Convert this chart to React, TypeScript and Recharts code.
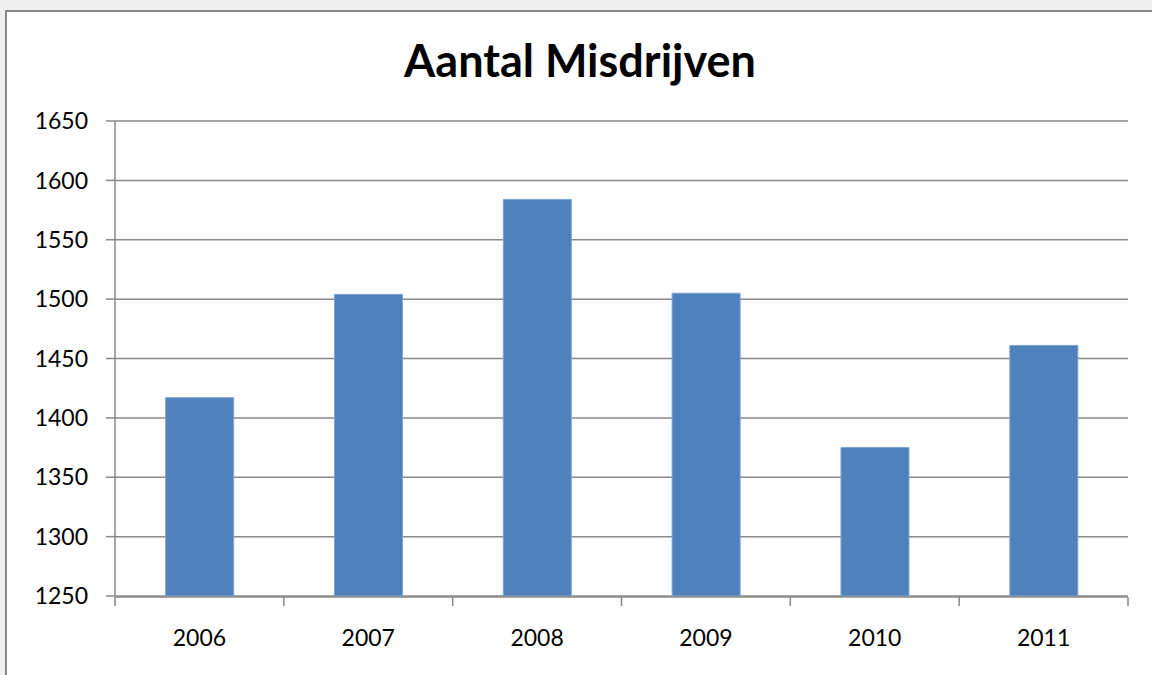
import { BarChart, Bar, XAxis, YAxis, CartesianGrid } from "recharts";

// ─── Data ────────────────────────────────────────────────────────────────────

const years = ["2006", "2007", "2008", "2009", "2010", "2011"];
const misdrijven = [1417, 1504, 1584, 1505, 1375, 1461];
const yTicks = [1250, 1300, 1350, 1400, 1450, 1500, 1550, 1600, 1650];
// category boundaries (used only for the tick marks between the bars)
const boundaryTicks = [0, 1, 2, 3, 4, 5, 6];

const AXIS_GREY = "#888888";
const FONT = "Lato, 'Open Sans', sans-serif";

const NoLabel = () => <g />;

export default function App() {
  const data = years.map((year, i) => ({
    year,
    count: misdrijven[i],
    slot: i + 0.5,
  }));

  return (
    <div
      style={{
        position: "fixed",
        left: 0,
        top: 0,
        width: 1152,
        height: 675,
        background: "#efefef",
        overflow: "hidden",
        fontFamily: FONT,
      }}
    >
      {/* chart frame, runs off the right and bottom edge */}
      <div
        style={{
          position: "absolute",
          left: 5,
          top: 10,
          width: 1200,
          height: 700,
          border: `2px solid ${AXIS_GREY}`,
          background: "#ffffff",
        }}
      />
      <div
        style={{
          position: "absolute",
          left: 0,
          top: 32,
          width: 1160,
          textAlign: "center",
          fontSize: 45,
          fontWeight: 700,
          lineHeight: "56px",
          color: "#000",
        }}
      >
        Aantal Misdrijven
      </div>
      <div style={{ position: "absolute", left: 0, top: 0 }}>
        <BarChart
          width={1152}
          height={675}
          data={data}
          barCategoryGap="30%"
          margin={{ top: 121, right: 24, left: 0, bottom: 33 }}
        >
          <CartesianGrid
            vertical={false}
            stroke={AXIS_GREY}
            strokeWidth={1.5}
          />
          {/* year labels: axis sits on the plot bottom, labels pushed down */}
          <XAxis
            dataKey="year"
            height={1}
            axisLine={false}
            tickLine={false}
            tickSize={0}
            tickMargin={34}
            tick={{ fontSize: 23, fill: "#000", fontFamily: FONT }}
          />
          {/* axis line with tick marks between the categories */}
          <XAxis
            xAxisId="bounds"
            type="number"
            dataKey="slot"
            domain={[0, 6]}
            ticks={boundaryTicks}
            interval={0}
            height={45}
            tick={NoLabel}
            tickSize={9}
            axisLine={{ stroke: AXIS_GREY, strokeWidth: 1.5 }}
            tickLine={{ stroke: AXIS_GREY, strokeWidth: 1.5 }}
          />
          <YAxis
            width={115}
            domain={[1250, 1650]}
            ticks={yTicks}
            interval={0}
            allowDataOverflow
            tickSize={9}
            tickMargin={18}
            axisLine={{ stroke: AXIS_GREY, strokeWidth: 1.5 }}
            tickLine={{ stroke: AXIS_GREY, strokeWidth: 1.5 }}
            tick={{ fontSize: 23, fill: "#000", fontFamily: FONT }}
          />
          <Bar
            dataKey="count"
            fill="#4F81BD"
            stroke="#7FA3D2"
            strokeWidth={1}
            isAnimationActive={false}
          />
        </BarChart>
      </div>
    </div>
  );
}
